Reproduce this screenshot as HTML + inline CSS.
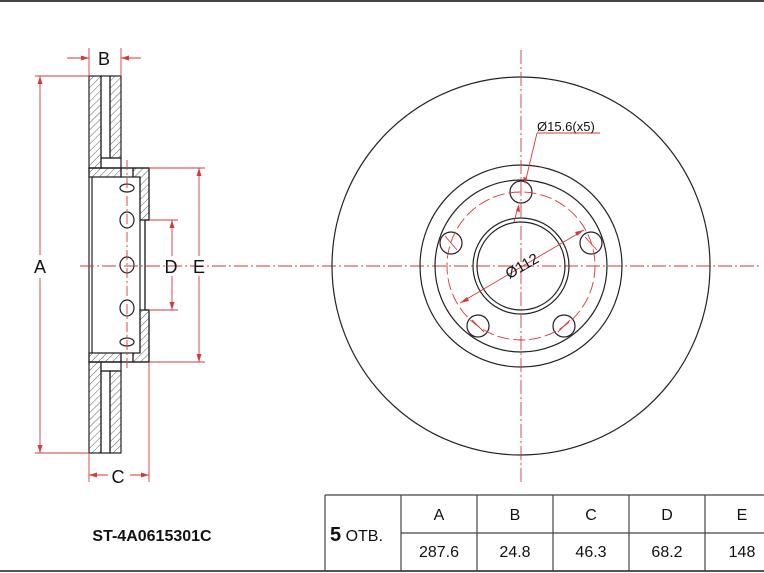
<!DOCTYPE html>
<html><head><meta charset="utf-8"><style>
html,body{margin:0;padding:0;background:#fff;}
svg{display:block;font-family:"Liberation Sans",sans-serif;}
</style></head><body>
<svg width="764" height="573" viewBox="0 0 764 573" xmlns="http://www.w3.org/2000/svg">
<defs>
<pattern id="h" width="5" height="5" patternUnits="userSpaceOnUse" patternTransform="rotate(45)">
<line x1="0" y1="0" x2="0" y2="5" stroke="#333" stroke-width="0.8"/>
</pattern>
</defs>
<rect x="0" y="0" width="764" height="2" fill="#444"/>
<rect x="0" y="570" width="764" height="2" fill="#555"/>

<g stroke="#222" stroke-width="1.2" fill="none">
<rect x="89" y="76" width="12" height="92" fill="url(#h)"/>
<rect x="110" y="76" width="11" height="82" fill="url(#h)"/>
<rect x="101" y="76" width="9" height="82"/>
<rect x="101" y="158" width="20" height="10"/>
<rect x="89" y="362" width="12" height="91" fill="url(#h)"/>
<rect x="110" y="371" width="11" height="82" fill="url(#h)"/>
<rect x="101" y="371" width="9" height="82"/>
<rect x="101" y="362" width="20" height="9"/>
<path d="M89 168 L89 362 L149 362 L149 310 L145 310 L145 220 L149 220 L149 168 Z"/>
<path d="M89 168 L121 168 L121 177 L89 177 Z" fill="url(#h)"/>
<path d="M133 168 L149 168 L149 220 L140 220 L140 177 L133 177 Z" fill="url(#h)"/>
<path d="M89 353 L121 353 L121 362 L89 362 Z" fill="url(#h)"/>
<path d="M133 362 L149 362 L149 310 L140 310 L140 353 L133 353 Z" fill="url(#h)"/>
<line x1="92" y1="177" x2="92" y2="353"/>
<line x1="140" y1="177" x2="140" y2="353"/>
<line x1="145" y1="220" x2="145" y2="310"/>
<rect x="121" y="168" width="12" height="9"/>
<rect x="121" y="353" width="12" height="9"/>
<ellipse cx="127" cy="188" rx="7" ry="4"/>
<ellipse cx="127" cy="220" rx="7" ry="8"/>
<ellipse cx="127" cy="265" rx="7" ry="8"/>
<ellipse cx="127" cy="308" rx="7" ry="8"/>
<ellipse cx="127" cy="342" rx="7" ry="4"/>
</g>

<g stroke="#d43a3a" stroke-width="0.9" fill="none">
<line x1="80" y1="266" x2="760" y2="266" stroke-dasharray="14 3 2 3"/>
<line x1="127" y1="160" x2="127" y2="370" stroke-dasharray="10 3 2 3"/>
<line x1="40" y1="76" x2="40" y2="255"/><line x1="40" y1="278" x2="40" y2="453"/>
<line x1="35" y1="76" x2="89" y2="76"/><line x1="35" y1="453" x2="89" y2="453"/>
<line x1="89" y1="48" x2="89" y2="76"/><line x1="121" y1="48" x2="121" y2="76"/>
<line x1="67" y1="58" x2="89" y2="58"/><line x1="121" y1="58" x2="141" y2="58"/>
<line x1="89" y1="453" x2="89" y2="482"/><line x1="149" y1="362" x2="149" y2="482"/>
<line x1="89" y1="475" x2="108" y2="475"/><line x1="130" y1="475" x2="149" y2="475"/>
<line x1="149" y1="220" x2="178" y2="220"/><line x1="149" y1="310" x2="178" y2="310"/>
<line x1="172" y1="220" x2="172" y2="256"/><line x1="172" y1="276" x2="172" y2="310"/>
<line x1="149" y1="168" x2="205" y2="168"/><line x1="149" y1="362" x2="205" y2="362"/>
<line x1="199" y1="168" x2="199" y2="256"/><line x1="199" y1="276" x2="199" y2="362"/>
</g>
<g fill="#d43a3a">
<path d="M40 76 l-2.5 8 h5z"/><path d="M40 453 l-2.5 -8 h5z"/>
<path d="M89 58 l-8 -2.5 v5z"/><path d="M121 58 l8 -2.5 v5z"/>
<path d="M89 475 l8 -2.5 v5z"/><path d="M149 475 l-8 -2.5 v5z"/>
<path d="M172 220 l-2.5 8 h5z"/><path d="M172 310 l-2.5 -8 h5z"/>
<path d="M199 168 l-2.5 8 h5z"/><path d="M199 362 l-2.5 -8 h5z"/>
</g>
<g font-size="18" fill="#111" text-anchor="middle">
<text x="40" y="273">A</text>
<text x="104" y="65">B</text>
<text x="118" y="483">C</text>
<text x="171" y="273">D</text>
<text x="199" y="273">E</text>
</g>

<g stroke="#222" stroke-width="1.2" fill="none">
<circle cx="521" cy="266" r="189"/>
<circle cx="521" cy="266" r="101"/>
<circle cx="521" cy="266" r="86"/>
<circle cx="521" cy="266" r="48"/>
<circle cx="521" cy="266" r="44"/>
<circle cx="521" cy="192" r="11"/>
<circle cx="591" cy="243" r="11"/>
<circle cx="451" cy="243" r="11"/>
<circle cx="478" cy="326" r="11"/>
<circle cx="564" cy="326" r="11"/>
</g>
<g stroke="#d43a3a" stroke-width="0.9" fill="none">
<line x1="521" y1="50" x2="521" y2="482" stroke-dasharray="14 3 2 3"/>
<circle cx="521" cy="266" r="74" stroke-dasharray="12 4"/>
<line x1="584" y1="230" x2="460" y2="303"/>
<line x1="514" y1="222" x2="518" y2="207"/>
<line x1="526" y1="179" x2="537" y2="133"/>
<line x1="537" y1="133" x2="600" y2="133"/>
<line x1="585" y1="237" x2="597" y2="250"/><line x1="445" y1="236" x2="457" y2="250"/>
<line x1="472" y1="320" x2="484" y2="332"/><line x1="558" y1="332" x2="570" y2="320"/>
</g>
<g fill="#d43a3a">
<path d="M584 230 l-7 6 l-2 -4z"/><path d="M460 303 l7 -6 l2 4z"/>
<path d="M519 204 l1 8 l-4 -1z"/><path d="M525 184 l-2 -7 l4 1z"/>
</g>
<text x="537" y="131" font-size="13" fill="#111">Ø15.6(x5)</text>
<text x="522" y="271" font-size="15" fill="#111" text-anchor="middle" transform="rotate(-30 522 266)">Ø112</text>

<g stroke="#444" stroke-width="1.2" fill="none">
<line x1="325" y1="495" x2="764" y2="495"/>
<line x1="401" y1="533" x2="764" y2="533"/>
<line x1="325" y1="495" x2="325" y2="571"/>
<line x1="401" y1="495" x2="401" y2="571"/>
<line x1="477" y1="495" x2="477" y2="571"/>
<line x1="553" y1="495" x2="553" y2="571"/>
<line x1="629" y1="495" x2="629" y2="571"/>
<line x1="705" y1="495" x2="705" y2="571"/>
</g>
<g font-size="16" fill="#111" text-anchor="middle">
<text x="439" y="520">A</text><text x="515" y="520">B</text><text x="591" y="520">C</text><text x="667" y="520">D</text><text x="742" y="520">E</text>
<text x="439" y="557">287.6</text><text x="515" y="557">24.8</text><text x="591" y="557">46.3</text><text x="667" y="557">68.2</text><text x="742" y="557">148</text>
</g>
<text x="330" y="541" font-size="16" fill="#111"><tspan font-weight="bold" font-size="20">5</tspan> ОТВ.</text>
<text x="152" y="541" font-size="16" font-weight="bold" fill="#111" text-anchor="middle">ST-4A0615301C</text>
</svg>
</body></html>
